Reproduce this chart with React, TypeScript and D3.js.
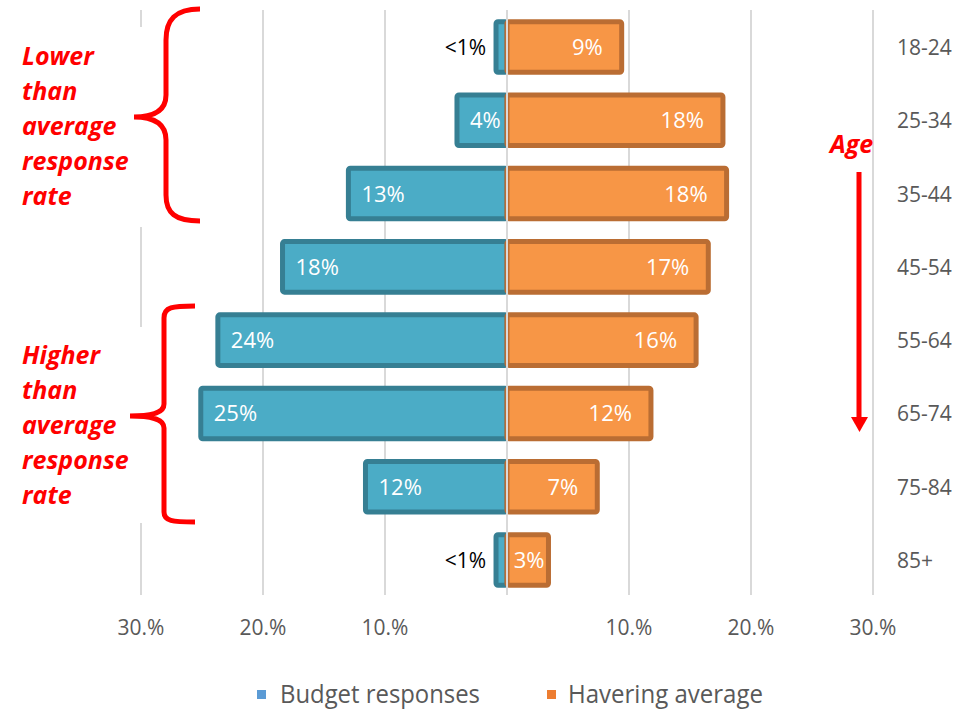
import * as d3 from "d3";

const ages = ["18-24", "25-34", "35-44", "45-54", "55-64", "65-74", "75-84", "85+"];
const budget = [0.9, 4.1, 13.0, 18.4, 23.7, 25.1, 11.6, 0.9];
const havering = [9.4, 17.7, 18.0, 16.5, 15.5, 11.8, 7.4, 3.4];
const budgetLabels = ["<1%", "4%", "13%", "18%", "24%", "25%", "12%", "<1%"];
const haveringLabels = ["9%", "18%", "18%", "17%", "16%", "12%", "7%", "3%"];
const ticks = [-30, -20, -10, 10, 20, 30];
const tickLabels = ["30.%", "20.%", "10.%", "10.%", "20.%", "30.%"];
const seriesNames = ["Budget responses", "Havering average"];
const lowerText = ["Lower", "than", "average", "response", "rate"];
const higherText = ["Higher", "than", "average", "response", "rate"];

const FONT = "'Open Sans', 'Noto Sans', sans-serif";
const GREY = "#595959";
const RED = "#FF0000";

// rough width of a label at 22px Open Sans
const textW = (s: string) =>
  s.split("").reduce((w, c) => w + (c === "%" ? 18.9 : 12.6), 0);

export default function App() {
  const width = 955;
  const height = 711;

  // Specify the scales.
  const x = d3.scaleLinear().domain([-30, 30]).range([141, 873]);
  const y = d3
    .scaleBand()
    .domain(ages)
    .range([10.35, 596.65])
    .paddingInner(0.31)
    .paddingOuter(0.155);
  const bw = y.bandwidth();
  const x0 = x(0);

  return (
    <svg
      width={width}
      height={height}
      style={{ position: "absolute", left: 0, top: 0, background: "#fff" }}
      fontFamily={FONT}
    >
      {/* grid lines */}
      {ticks.map((t) => (
        <line key={t} x1={x(t)} x2={x(t)} y1={10} y2={595} stroke="#D9D9D9" strokeWidth={2} />
      ))}

      {/* bars: budget responses (left) */}
      {ages.map((a, i) => (
        <rect
          key={"b" + a}
          x={x(-budget[i])}
          y={y(a)}
          width={x0 - x(-budget[i])}
          height={bw}
          rx={2}
          fill="#4BACC6"
          stroke="#367F93"
          strokeWidth={5}
        />
      ))}
      {/* bars: havering average (right) */}
      {ages.map((a, i) => (
        <rect
          key={"h" + a}
          x={x0}
          y={y(a)}
          width={x(havering[i]) - x0}
          height={bw}
          rx={2}
          fill="#F79646"
          stroke="#BA6D33"
          strokeWidth={5}
        />
      ))}

      {/* centre axis */}
      <line x1={x0} x2={x0} y1={10} y2={595} stroke="#D9D9D9" strokeWidth={2} />

      {/* bar labels */}
      {ages.map((a, i) => {
        const cy = (y(a) as number) + bw / 2 + 8;
        const lab = budgetLabels[i];
        const small = lab.startsWith("<");
        const bx = small
          ? x(-budget[i]) - 10
          : Math.min(x(-budget[i]) + 13, x0 - 4 - textW(lab));
        return (
          <text
            key={"bl" + a}
            x={bx}
            y={cy}
            fontSize={small ? 21 : 22}
            textAnchor={small ? "end" : "start"}
            fill={small ? "#000" : "#fff"}
          >
            {lab}
          </text>
        );
      })}
      {ages.map((a, i) => {
        const cy = (y(a) as number) + bw / 2 + 8;
        const lab = haveringLabels[i];
        const hx = Math.max(x(havering[i]) - 19, x0 + 6 + textW(lab));
        return (
          <text key={"hl" + a} x={hx} y={cy} fontSize={22} textAnchor="end" fill="#fff">
            {lab}
          </text>
        );
      })}

      {/* age labels */}
      {ages.map((a) => (
        <text key={"a" + a} x={897} y={(y(a) as number) + bw / 2 + 8} fontSize={21} fill={GREY}>
          {a}
        </text>
      ))}

      {/* x tick labels */}
      {ticks.map((t, i) => (
        <text key={"t" + t} x={x(t)} y={635} fontSize={21} fill={GREY} textAnchor="middle">
          {tickLabels[i]}
        </text>
      ))}

      {/* legend */}
      <rect x={257} y={690} width={9} height={9} fill="#5B9BD5" />
      <text x={280} y={703} fontSize={25} fill={GREY} textLength={200} lengthAdjust="spacingAndGlyphs">
        {seriesNames[0]}
      </text>
      <rect x={547} y={690} width={9} height={9} fill="#ED7D31" />
      <text x={568} y={703} fontSize={25} fill={GREY} textLength={195} lengthAdjust="spacingAndGlyphs">
        {seriesNames[1]}
      </text>

      {/* annotations */}
      <rect x={0} y={27} width={146} height={200} fill="#fff" />
      <rect x={0} y={327} width={146} height={196} fill="#fff" />
      <g fill={RED} fontSize={25} fontWeight={700} fontStyle="italic">
        {lowerText.map((s, i) => (
          <text key={"lo" + i} x={22} y={65 + i * 35}>
            {s}
          </text>
        ))}
        {higherText.map((s, i) => (
          <text key={"hi" + i} x={22} y={364 + i * 35}>
            {s}
          </text>
        ))}
        <text x={830} y={153}>
          Age
        </text>
      </g>
      <path
        d="M200,9 C175,9 166,20 166,40 L166,95 C166,110 155,117 134,117 C155,117 166,124 166,140 L166,195 C166,213 175,221 200,221"
        fill="none"
        stroke={RED}
        strokeWidth={5}
      />
      <path
        d="M195,306 C172,306 164,307 164,318 L164,404 C164,412 155,416 130,416 C155,416 164,420 164,428 L164,512 C164,521 172,522 195,522"
        fill="none"
        stroke={RED}
        strokeWidth={5}
      />
      <line x1={859} x2={859} y1={172} y2={419} stroke={RED} strokeWidth={5} />
      <path d="M851,417 L868,417 L859.5,432 Z" fill={RED} />
    </svg>
  );
}
